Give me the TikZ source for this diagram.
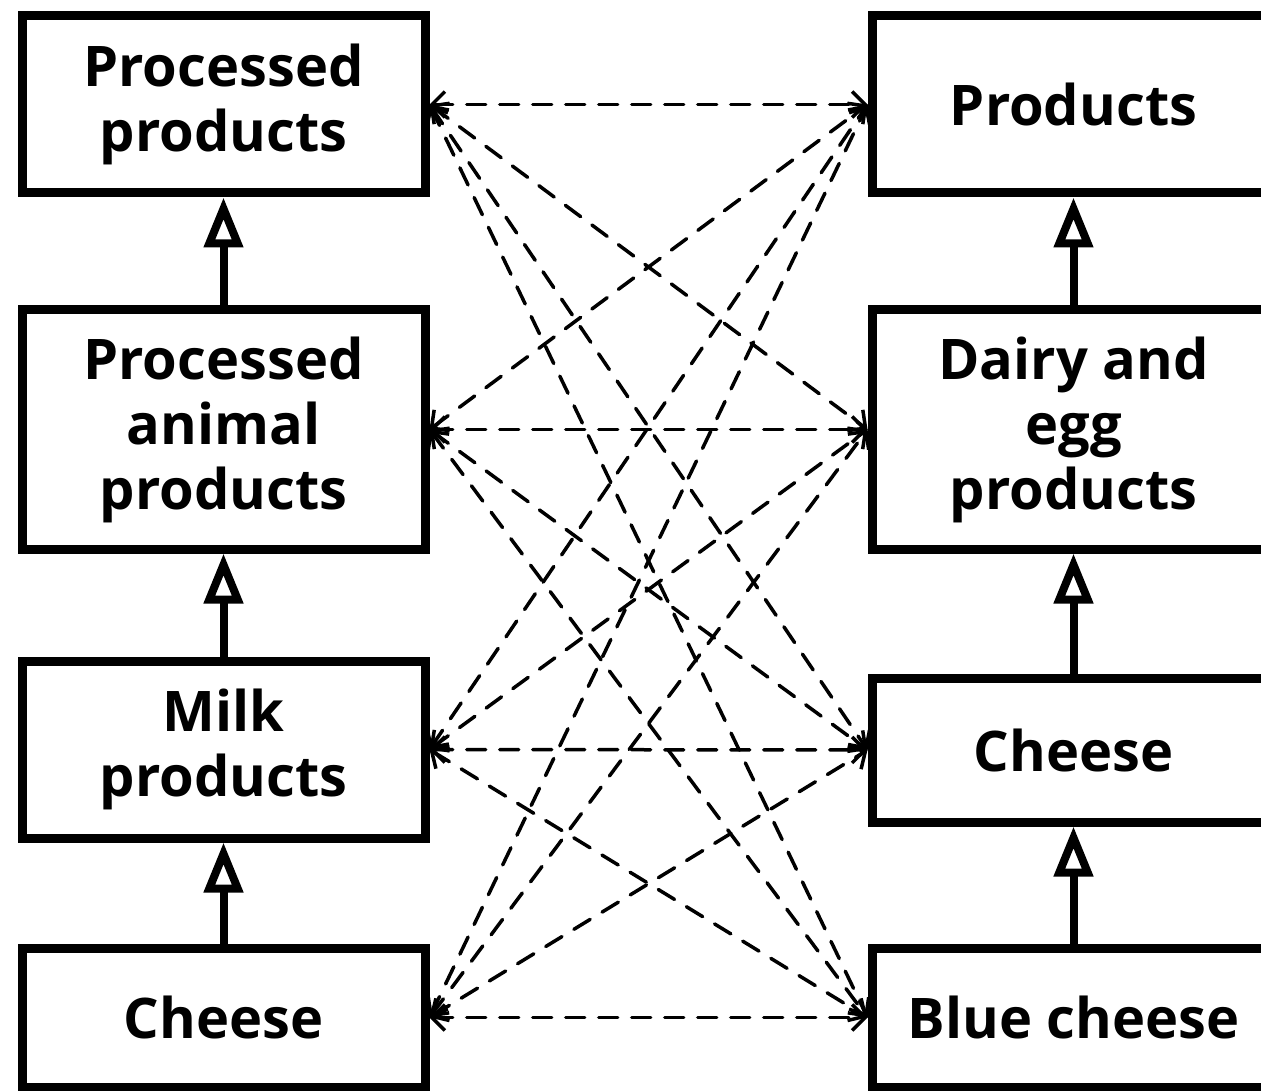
\documentclass[tikz,border=0pt]{standalone}
\usepackage{fontspec}
\setmainfont{Open Sans}
\usetikzlibrary{arrows.meta}
\begin{document}
\begin{tikzpicture}[x=1pt,y=-1pt,
  cls/.style={draw, line width=9pt, rectangle, minimum width=403pt, inner sep=0pt,
    align=center, font=\bfseries\fontsize{56}{65}\selectfont},
  isa/.style={line width=8pt, -{Triangle[open,length=50pt,width=38pt]}},
  link/.style={line width=3.5pt, line cap=round, dash pattern=on 19pt off 14pt,
    {Straight Barb[length=13pt,width=26pt]}-{Straight Barb[length=13pt,width=26pt]}}
]
\useasboundingbox (0,0) rectangle (1261,1091);

% left hierarchy
\node[cls, minimum height=177pt] (L1) at (223.5,104.5) {Processed\\products};
\node[cls, minimum height=239pt] (L2) at (223.5,429.5) {Processed\\animal\\products};
\node[cls, minimum height=177pt] (L3) at (223.5,749.5) {Milk\\products};
\node[cls, minimum height=139pt] (L4) at (223.5,1017.5) {Cheese};

% right hierarchy
\node[cls, minimum height=177pt] (R1) at (1073.5,104.5) {Products};
\node[cls, minimum height=239pt] (R2) at (1073.5,429.5) {Dairy and\\egg\\products};
\node[cls, minimum height=144pt] (R3) at (1073.5,750) {Cheese};
\node[cls, minimum height=139pt] (R4) at (1073.5,1017.5) {Blue cheese};

% subclass arrows
\draw[isa] (L2.north) -- (L1.south);
\draw[isa] (L3.north) -- (L2.south);
\draw[isa] (L4.north) -- (L3.south);
\draw[isa] (R2.north) -- (R1.south);
\draw[isa] (R3.north) -- (R2.south);
\draw[isa] (R4.north) -- (R3.south);

% mappings between the two hierarchies
\foreach \a in {L1,L2,L3,L4}
  \foreach \b in {R1,R2,R3,R4}
    \draw[link] (\a.east) -- (\b.west);
\end{tikzpicture}
\end{document}
